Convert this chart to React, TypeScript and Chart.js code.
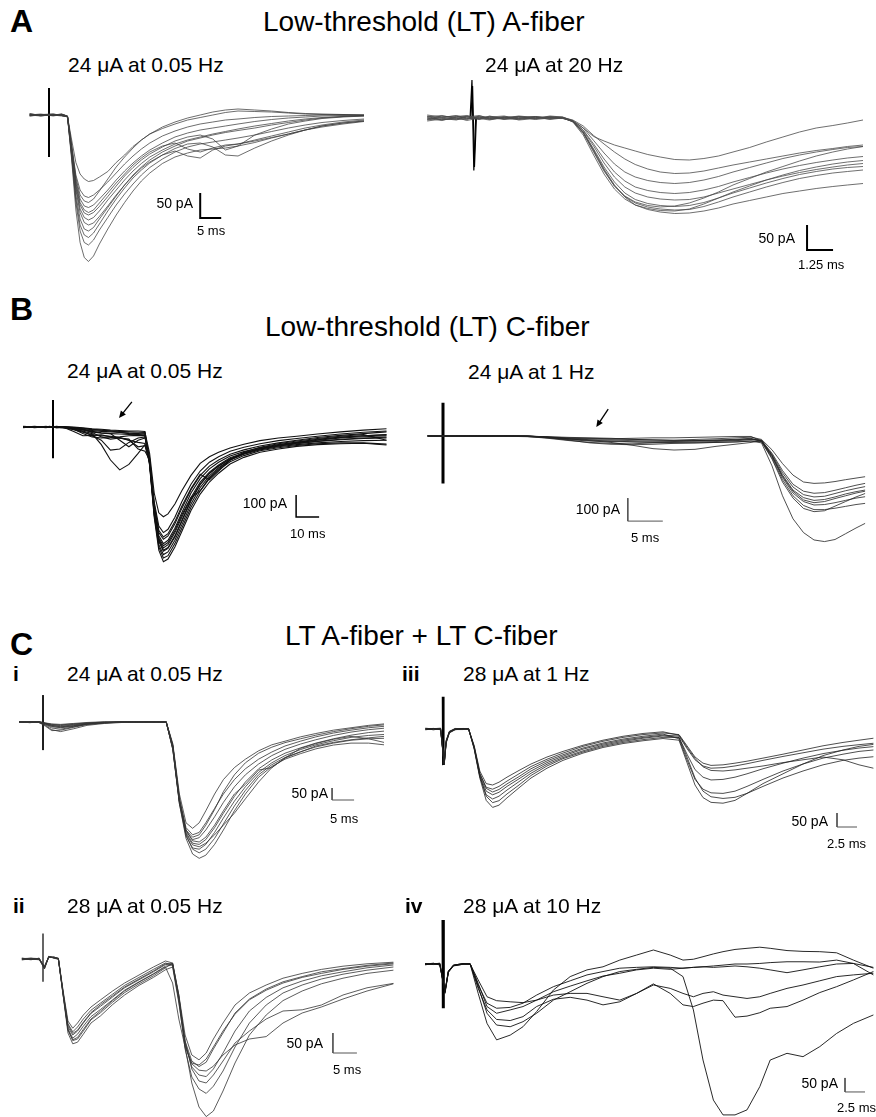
import React, { useEffect, useRef } from "react";
import { Chart, registerables } from "chart.js";

Chart.register(...registerables);

const FONT = '"Liberation Sans", Arial, Helvetica, sans-serif';

// ================= A (left): 24 uA at 0.05 Hz  (x: ms, y: pA) =================
const aLeftTimes = [-4.6, -2, 1, 3, 4.4, 5.4, 6.4, 7.4, 8.4, 9.4, 10.6, 12, 14, 16, 18, 20, 22, 24, 27, 30, 33, 36, 39, 42, 45, 49, 53, 57, 61, 65, 70, 75];
const aLeftTraces = [
  [3, -2, 1, -1, -3, -50, -95, -118, -128, -133, -131, -124, -113, -95, -80, -63, -50, -38, -27, -18, -10, -5, 0, 5, 8, 7, 6, 4, 2, 1, 0, 0],
  [0, 2, -2, 1, -2, -60, -120, -150, -162, -165, -160, -150, -134, -116, -98, -82, -68, -56, -42, -32, -24, -18, -14, -10, -8, -5, -3, -2, -1, 0, 1, -1],
  [-2, 0, 2, -1, -4, -65, -130, -168, -182, -185, -180, -168, -150, -130, -112, -96, -82, -70, -56, -44, -36, -30, -26, -22, -18, -13, -9, -6, -4, -2, -1, 0],
  [1, -1, 0, 2, -3, -70, -140, -180, -196, -200, -195, -183, -163, -142, -122, -105, -90, -78, -64, -52, -44, -40, -48, -70, -62, -40, -28, -18, -12, -7, -4, -2],
  [2, 0, -1, 1, -2, -72, -145, -188, -205, -210, -205, -192, -170, -150, -130, -112, -97, -84, -70, -58, -50, -44, -38, -33, -28, -22, -17, -12, -8, -5, -3, -1],
  [-1, 1, 0, -2, -3, -75, -150, -195, -215, -220, -216, -203, -182, -160, -140, -122, -106, -94, -80, -72, -82, -86, -70, -62, -58, -52, -45, -38, -30, -22, -16, -12],
  [0, -2, 1, 0, -4, -80, -160, -208, -228, -232, -225, -208, -185, -162, -140, -120, -104, -90, -74, -62, -52, -46, -40, -35, -31, -26, -20, -15, -10, -6, -3, -2],
  [1, 0, -1, 2, -2, -82, -168, -220, -240, -245, -236, -218, -192, -168, -146, -126, -110, -96, -80, -67, -58, -56, -64, -80, -82, -66, -52, -40, -30, -22, -16, -12],
  [-1, 1, 2, -1, -3, -85, -175, -232, -255, -260, -250, -230, -205, -180, -158, -138, -120, -105, -88, -74, -64, -58, -54, -50, -46, -40, -33, -26, -20, -15, -11, -8],
  [0, -1, 0, 1, -3, -90, -190, -255, -285, -293, -282, -258, -228, -200, -175, -152, -132, -116, -97, -84, -76, -70, -68, -66, -62, -55, -46, -38, -30, -24, -18, -13],
  [2, 0, -1, 1, -2, -62, -125, -160, -172, -175, -168, -152, -128, -104, -84, -66, -50, -38, -24, -14, -6, 0, 6, 10, 12, 10, 8, 5, 3, 2, 1, 0],
  [-2, 1, 0, -1, -3, -68, -135, -175, -190, -195, -190, -176, -156, -136, -118, -100, -86, -74, -62, -56, -68, -74, -66, -60, -58, -50, -42, -34, -26, -20, -14, -10],
];
const aLeftStim = [[0, 54], [0, -84]];

// ================= A (right): 24 uA at 20 Hz =================
const aRightTimes = [-2.2, -1.5, -0.8, -0.3, 0.3, 0.8, 1.5, 2.2, 3, 3.7, 4.3, 4.8, 5.3, 5.8, 6.3, 6.8, 7.3, 7.8, 8.4, 9, 9.7, 10.4, 11.1, 11.8, 12.5, 13.3, 14.1, 14.9, 15.7, 16.5, 17.3, 18, 18.75];
const aRightPre = [
  [-3, 2, 4, -2, 3, -2, 1, 3, -1, 2, 0],
  [4, -1, -4, 2, -2, 3, -1, -3, 2, 0, 1],
  [-6, -2, 3, 5, -1, -4, 2, 1, -2, 3, 2],
  [2, 5, -1, -3, 4, 1, -3, 2, 3, -1, 0],
  [-1, -5, 2, 3, -3, 2, 4, -2, 0, 2, -1],
  [6, 2, -3, -1, 2, -3, 0, 4, 1, -2, 1],
  [-4, 1, 5, 0, -2, 4, -2, -1, 3, 1, 0],
  [1, -3, -2, 4, 1, -1, 3, -4, -1, 4, 2],
  [-2, 4, 1, -5, 0, 2, -2, 3, -3, 0, 1],
  [3, -4, 0, 2, 5, -1, 1, -1, 2, -3, 0],
];
const aRightPost = [
  [-6, -20, -37, -46, -54, -60, -66, -73, -78, -83, -84, -81, -76, -68, -59, -48, -38, -28, -20, -15, -10, -4],
  [-4, -16, -35, -52, -68, -82, -93, -102, -108, -111, -110, -106, -100, -94, -88, -82, -76, -70, -65, -61, -57, -54],
  [-5, -20, -45, -70, -92, -108, -118, -125, -129, -131, -129, -124, -117, -108, -99, -90, -81, -74, -68, -63, -59, -57],
  [-6, -24, -52, -82, -108, -126, -138, -145, -149, -151, -149, -144, -137, -128, -119, -110, -102, -95, -89, -84, -80, -77],
  [-6, -25, -56, -90, -118, -138, -150, -158, -162, -164, -163, -158, -150, -142, -133, -124, -116, -109, -103, -98, -94, -91],
  [-7, -28, -62, -98, -128, -150, -163, -171, -175, -177, -175, -169, -160, -150, -140, -130, -121, -113, -107, -102, -99, -97],
  [-7, -30, -66, -104, -136, -157, -170, -178, -182, -184, -183, -177, -168, -158, -148, -138, -129, -121, -115, -110, -107, -104],
  [-6, -28, -64, -102, -134, -158, -174, -183, -188, -191, -190, -186, -180, -172, -165, -158, -151, -146, -141, -137, -134, -131],
  [-8, -34, -74, -112, -142, -162, -174, -181, -185, -186, -182, -172, -160, -148, -136, -124, -114, -105, -98, -92, -88, -85],
  [-7, -30, -68, -106, -136, -156, -168, -175, -178, -176, -170, -160, -148, -134, -121, -108, -97, -86, -76, -68, -62, -57],
];
const aRightStimA = [[-0.14, 0], [-0.05, 76], [0.04, -105], [0.13, 0]];
const aRightStimB = [[-0.1, 3], [-0.02, 64], [0.07, -98], [0.16, -2]];

// ================= B (left): 24 uA at 0.05 Hz =================
const bLeftTimes = [-13, -8, -3, -1.5, 1.5, 5, 9, 13, 17, 21, 25, 29, 33, 37, 40, 42, 44, 46, 48, 50, 53, 56, 60, 64, 68, 72, 77, 83, 90, 98, 106, 115, 125, 135, 145];
const bLeftPre = [
  [2, -3, 1, -2, 3, -1, -4, -8, -12, -15, -18, -20, -22, -24, -25],
  [-1, 2, -2, 1, -3, -2, -6, -14, -22, -28, -30, -32, -34, -36, -38],
  [3, 0, -2, 2, -1, -4, -10, -20, -40, -60, -105, -100, -70, -50, -45],
  [0, -2, 3, -1, 2, -3, -8, -18, -30, -80, -150, -195, -170, -120, -80],
  [-2, 1, 0, 3, -2, -1, -5, -10, -25, -45, -55, -50, -60, -70, -75],
  [1, -1, 2, -2, 0, 2, 0, -4, -8, -10, -14, -16, -18, -18, -20],
  [-3, 2, -1, 0, 2, -2, -12, -24, -35, -40, -42, -48, -60, -90, -85],
  [2, -2, 1, 2, -2, 1, -3, -6, -10, -14, -18, -24, -30, -34, -30],
  [0, 1, -3, 1, -1, -2, -10, -30, -45, -50, -48, -45, -40, -38, -40],
  [-2, 0, 2, -1, 1, -3, -20, -40, -38, -36, -45, -50, -55, -100, -110],
  [1, -2, 0, 2, -3, 0, -4, -12, -20, -26, -30, -60, -90, -60, -50],
  [-1, 3, -2, 0, 1, -2, -6, -12, -16, -20, -22, -25, -28, -30, -32],
];
const bLeftPost = [
  [-120, -300, -390, -408, -395, -350, -290, -220, -165, -135, -115, -95, -78, -62, -50, -42, -32, -22, -14, -8],
  [-140, -340, -450, -480, -465, -410, -340, -260, -200, -160, -135, -110, -92, -76, -62, -52, -42, -32, -24, -18],
  [-150, -360, -480, -510, -495, -440, -370, -285, -220, -178, -150, -124, -104, -86, -72, -60, -48, -38, -30, -22],
  [-155, -370, -495, -530, -515, -460, -390, -300, -235, -190, -160, -132, -112, -94, -80, -68, -56, -46, -40, -34],
  [-160, -380, -510, -550, -535, -480, -410, -320, -250, -205, -172, -140, -118, -98, -84, -74, -64, -56, -50, -46],
  [-160, -385, -520, -565, -552, -500, -430, -335, -262, -212, -178, -145, -120, -100, -86, -76, -66, -58, -52, -50],
  [-165, -395, -535, -580, -568, -515, -445, -350, -275, -222, -185, -150, -124, -104, -90, -80, -72, -66, -62, -60],
  [-170, -400, -545, -595, -585, -530, -460, -365, -290, -235, -195, -158, -130, -108, -94, -84, -76, -72, -72, -78],
  [-175, -410, -560, -612, -600, -545, -475, -380, -305, -250, -210, -168, -138, -115, -100, -88, -80, -76, -74, -82],
  [-150, -370, -505, -540, -525, -470, -400, -320, -290, -230, -190, -150, -122, -100, -86, -72, -60, -50, -44, -40],
  [-145, -350, -470, -500, -485, -430, -360, -280, -215, -240, -200, -150, -115, -92, -76, -64, -52, -42, -34, -60],
  [-160, -380, -515, -560, -548, -495, -425, -330, -258, -210, -176, -144, -118, -98, -82, -70, -58, -48, -40, -36],
];
const bLeftStim = [[0, 123], [0, -142]];

// ================= B (right): 24 uA at 1 Hz =================
const bRightTimes = [-2.2, -1, -0.3, 0.3, 1, 3, 6, 9, 12, 15, 18, 21, 24, 27, 30, 33, 36, 39, 42, 44, 45.5, 47, 48.5, 50, 51.5, 53, 54.5, 56, 57.5, 59, 60.3];
const bRightPre = [
  [2, -1, 1, -2, 1, 0, -1, 2, 0, -5, -10, -12, -14, -15, -16, -18, -15, -12, -8, -5],
  [-1, 2, -2, 1, -1, 2, 0, -1, -3, -8, -14, -18, -22, -25, -26, -24, -22, -20, -18, -15],
  [1, 0, -1, 2, 0, -1, 2, 0, -2, -10, -20, -28, -32, -34, -30, -28, -26, -24, -20, -16],
  [0, -2, 1, 0, -2, 1, -1, 1, -1, -6, -12, -20, -28, -40, -55, -61, -58, -45, -35, -28],
  [-2, 1, 0, -1, 2, -1, 1, -1, 0, -4, -8, -10, -12, -10, -8, -8, -6, -4, -2, -2],
  [1, -1, 2, -1, 0, 2, -1, 0, -2, -6, -16, -22, -24, -26, -28, -30, -30, -28, -26, -22],
  [-1, 0, -1, 1, 1, -2, 0, 2, -1, -3, -6, -8, -10, -14, -18, -20, -20, -18, -14, -10],
  [0, 1, -2, 0, -1, 1, 1, -2, 1, -8, -18, -30, -36, -38, -36, -32, -30, -28, -25, -22],
  [2, -2, 0, 1, -1, 0, -2, 1, 0, -5, -12, -16, -18, -20, -22, -22, -20, -18, -16, -12],
];
const bRightPost = [
  [-15, -60, -120, -170, -200, -206, -204, -198, -190, -183, -177],
  [-18, -75, -150, -210, -240, -249, -246, -236, -225, -214, -206],
  [-20, -80, -160, -222, -255, -265, -262, -250, -238, -228, -220],
  [-20, -85, -170, -235, -268, -280, -276, -265, -252, -242, -235],
  [-22, -90, -180, -248, -285, -300, -298, -290, -280, -270, -264],
  [-25, -95, -190, -260, -302, -320, -320, -314, -306, -298, -293],
  [-25, -100, -200, -270, -315, -329, -325, -305, -285, -265, -250],
  [-30, -130, -260, -360, -420, -452, -459, -450, -425, -400, -380],
  [-20, -85, -175, -240, -278, -290, -285, -272, -260, -248, -240],
];
const bRightStim = [[0, 145], [0, -206]];

// ================= C i: 24 uA at 0.05 Hz =================
const ciTimes = [-5.4, -3, -1, 0.6, 2, 4, 7, 10, 14, 18, 22, 26, 28, 29.5, 31, 32.5, 34, 35.5, 37, 39, 41, 43.5, 46, 49, 52, 55, 58.5, 62, 66, 70, 74, 77.5];
const ciPre = [
  [2, -3, 1, -8, -15, -18, -12, -6, -2, 1, -1, 2, 0],
  [-1, 2, -2, -12, -25, -30, -20, -10, -4, 0, 2, -1, 1],
  [1, 0, 2, -5, -10, -12, -8, -4, 0, -2, 1, 0, -2],
  [0, -2, 1, -15, -32, -40, -28, -14, -6, -2, 0, 1, -1],
  [-2, 1, -1, -6, -14, -20, -15, -8, -2, 2, -1, 0, 1],
  [1, -1, 0, -10, -20, -22, -16, -8, -3, 0, 1, -1, 0],
  [-1, 1, 2, -4, -8, -10, -6, -2, 1, -1, 0, 2, -1],
  [2, 0, -1, -18, -36, -34, -22, -10, -4, -1, 1, 0, 1],
  [0, 1, -2, -8, -18, -24, -18, -9, -3, 1, -2, 1, 0],
  [-1, -2, 1, -6, -12, -15, -10, -5, -1, 0, 1, -1, 2],
];
const ciPost = [
  [-90, -300, -420, -443, -420, -370, -300, -240, -190, -155, -120, -95, -80, -62, -48, -34, -24, -14, -8],
  [-100, -320, -440, -470, -460, -420, -360, -300, -240, -195, -155, -125, -100, -80, -62, -46, -34, -24, -18],
  [-110, -330, -455, -490, -482, -450, -395, -335, -270, -220, -175, -140, -114, -92, -74, -56, -42, -32, -26],
  [-100, -325, -460, -505, -510, -490, -440, -380, -310, -250, -195, -158, -130, -108, -88, -70, -55, -44, -38],
  [-115, -340, -475, -525, -530, -510, -460, -400, -330, -270, -210, -170, -140, -115, -95, -78, -64, -56, -52],
  [-105, -330, -470, -530, -545, -530, -485, -425, -350, -285, -220, -178, -148, -124, -104, -88, -76, -70, -68],
  [-110, -340, -485, -550, -568, -555, -510, -450, -370, -300, -230, -185, -155, -132, -112, -96, -88, -88, -95],
  [-95, -315, -450, -495, -500, -480, -430, -370, -300, -260, -200, -190, -150, -110, -90, -72, -60, -70, -85],
  [-100, -330, -465, -512, -520, -505, -470, -430, -380, -320, -250, -190, -150, -125, -100, -85, -74, -66, -60],
  [-115, -335, -450, -480, -470, -430, -365, -290, -220, -170, -130, -105, -86, -70, -55, -40, -28, -18, -12],
];
const ciStim = [[0, 112], [0, -117]];

// ================= C iii: 28 uA at 1 Hz =================
const ciiiTimes = [-2.2, -1.2, -0.3, 0.15, 0.4, 0.8, 1.5, 2.5, 3.2, 3.9, 4.6, 5.4, 6.2, 7, 8, 9.5, 11, 13, 15, 17.5, 20, 22.5, 25, 27.5, 29.5, 30.5, 31.5, 32.5, 33.5, 35, 36.5, 38, 40, 42.5, 45, 47.5, 50, 52, 53.8];
const ciiiStart = [
  [2, -3, 1, -125, -45, -12, -2, 1, 0],
  [-2, 1, 3, -120, -40, -8, 0, -1, 2],
  [1, 2, -2, -128, -50, -14, -3, 2, -1],
  [-1, -2, 2, -122, -42, -10, 1, 0, 1],
  [3, 0, -1, -126, -48, -13, -2, -2, 0],
  [0, 2, -3, -124, -44, -9, 2, 1, -2],
  [-3, 1, 0, -127, -46, -11, -1, 2, 1],
];
const ciiiFirst = [
  [-60, -150, -195, -200, -190, -172, -148, -125, -100, -80, -58, -40, -26, -16, -10],
  [-65, -160, -208, -215, -205, -186, -160, -134, -108, -86, -62, -44, -30, -20, -14],
  [-62, -158, -212, -225, -216, -196, -170, -142, -114, -92, -68, -50, -36, -26, -18],
  [-68, -165, -222, -235, -226, -205, -178, -150, -120, -97, -72, -54, -40, -30, -22],
  [-70, -170, -235, -250, -240, -218, -188, -158, -126, -102, -78, -58, -44, -33, -25],
  [-66, -168, -240, -263, -256, -232, -200, -166, -132, -106, -82, -62, -48, -38, -30],
  [-72, -175, -255, -280, -272, -246, -210, -175, -140, -112, -86, -66, -52, -42, -34],
];
const ciiiSecond = [
  [-22, -65, -105, -135, -148, -150, -146, -140, -132, -120, -110, -100, -110, -128, -140],
  [-20, -60, -100, -122, -130, -128, -122, -115, -104, -90, -75, -60, -48, -40, -33],
  [-35, -110, -180, -215, -228, -230, -222, -205, -180, -150, -125, -104, -90, -80, -75],
  [-25, -70, -110, -132, -140, -138, -132, -124, -112, -98, -85, -72, -62, -56, -51],
  [-30, -100, -175, -222, -242, -248, -244, -230, -205, -175, -150, -128, -112, -104, -99],
  [-30, -90, -145, -172, -182, -180, -172, -160, -142, -122, -104, -88, -76, -68, -63],
  [-40, -120, -200, -245, -262, -265, -255, -230, -195, -160, -125, -95, -75, -62, -55],
];
const ciiiStim = [[0, 115], [0.04, -129]];

// ================= C ii: 28 uA at 0.05 Hz =================
const ciiTimes = [-4.4, -2.5, -0.8, 0.3, 1.2, 2.3, 3.2, 4.2, 5.2, 6.2, 7.2, 8.4, 10, 12, 14.5, 17, 20, 23, 25.5, 27, 28.3, 29.6, 31, 32.5, 34, 35.5, 37.5, 40, 43, 46.5, 50, 54, 58, 62.5, 67.5, 73];
const ciiStart = [
  [1, -2, 2, -20, 5, 4, 2],
  [-2, 1, -1, -25, 6, 3, 0],
  [2, 0, -2, -18, 4, 5, 1],
  [0, 2, 1, -22, 7, 2, -1],
  [-1, -1, 2, -24, 5, 4, 1],
  [1, 2, -1, -19, 6, 3, 2],
  [-2, 0, 1, -21, 4, 5, 0],
  [2, -1, 0, -23, 6, 2, 1],
];
const ciiFirst = [
  [-80, -155, -173, -160, -140, -120, -102, -80, -60, -40, -20, -5],
  [-85, -162, -182, -170, -150, -128, -110, -88, -66, -46, -26, -10],
  [-88, -170, -190, -180, -160, -136, -118, -95, -72, -52, -32, -14],
  [-90, -175, -198, -188, -168, -144, -126, -102, -78, -57, -37, -18],
  [-86, -176, -204, -200, -180, -152, -134, -108, -84, -62, -42, -22],
  [-92, -185, -212, -208, -188, -160, -142, -114, -90, -66, -46, -27],
  [-84, -165, -186, -178, -158, -134, -114, -92, -70, -50, -30, -12],
  [-90, -178, -202, -196, -176, -150, -130, -104, -80, -58, -38, -20],
];
const ciiSecond = [
  [-10, -90, -190, -240, -252, -235, -200, -160, -115, -85, -65, -48, -36, -26, -18, -12, -8],
  [-15, -100, -205, -255, -269, -258, -225, -185, -135, -100, -75, -57, -44, -32, -24, -16, -10],
  [-12, -95, -210, -270, -290, -294, -275, -235, -180, -130, -96, -72, -55, -42, -32, -22, -15],
  [-15, -105, -225, -295, -325, -336, -318, -280, -220, -160, -115, -85, -65, -50, -38, -28, -20],
  [-10, -90, -220, -310, -370, -394, -380, -330, -260, -190, -140, -104, -80, -62, -48, -36, -28],
  [-20, -110, -215, -262, -278, -280, -268, -240, -215, -200, -194, -160, -135, -120, -100, -80, -62],
  [-12, -95, -205, -275, -305, -310, -290, -255, -210, -180, -150, -130, -127, -115, -90, -72, -61],
  [-60, -150, -220, -260, -265, -250, -220, -180, -138, -102, -78, -60, -46, -36, -26, -18, -12],
];
const ciiStim = [[0, 64], [0, -57]];

// ================= C iv: 28 uA at 10 Hz =================
const civTimes = [-2.25, -1.2, -0.4, 0.25, 0.67, 1.3, 2.5, 3.4, 4.4, 5.5, 6.7, 8.4, 10, 11.7, 13.8, 15.9, 18, 20, 22.1, 24.2, 26.3, 28.4, 30, 31.3, 32.5, 33.8, 35, 36.5, 38, 39.6, 40.9, 43, 45, 47.1, 49.2, 51.3, 53.8];
const civStart = [
  [-1, 3, -4, -100, -28, -6, 0, -1],
  [2, -2, 1, -95, -25, -4, 1, 0],
  [-3, 1, 2, -105, -30, -7, -1, 1],
  [1, -1, -2, -98, -26, -5, 2, -1],
  [0, 2, -1, -102, -29, -6, -1, 0],
  [-2, 0, 3, -97, -27, -4, 1, 1],
];
const civMain = [
  [-105, -212, -271, -254, -224, -170, -93, -45, -21, -10, 14, 32, 50, 32, 14, 17, 26, 36, 44, 52, 56, 60, 56, 48, 45, 44, 40, 14, -15],
  [-81, -176, -218, -224, -206, -176, -129, -99, -69, -45, -27, -19, -12, -15, -45, -164, -343, -486, -539, -539, -521, -438, -343, -319, -331, -295, -248, -212, -182],
  [-69, -152, -176, -164, -152, -129, -99, -79, -60, -43, -33, -21, -15, -19, -15, -12, -10, -12, -10, -7, -10, -15, -21, -31, -21, -10, 0, 2, -39],
  [-57, -117, -131, -135, -138, -129, -111, -105, -105, -117, -129, -105, -75, -87, -105, -117, -105, -99, -111, -117, -123, -117, -105, -87, -75, -60, -45, -39, -33],
  [-87, -164, -198, -202, -188, -152, -126, -119, -129, -146, -135, -105, -71, -105, -146, -152, -140, -129, -131, -190, -186, -174, -158, -152, -129, -102, -81, -57, -27],
  [-75, -140, -158, -155, -140, -111, -81, -60, -39, -27, -15, -12, -10, -12, -15, -12, -10, -7, -4, 0, 0, 2, 5, 8, 8, 7, 14, 2, -12],
];
const civStim = [[0, 157], [0.04, -158]];

// ---------- tables built from the arrays ----------
const join = (a: number[][], b: number[][]) => a.map((p, i) => [...p, ...b[i]]);
const join3 = (a: number[][], b: number[][], c: number[][]) => a.map((p, i) => [...p, ...b[i], ...c[i]]);

type Bar = { t: number; p: number; dt: number; dp: number; color: string; w: number };
type Panel = {
  key: string; left: number; top: number; width: number; height: number;
  sx: number; by: number; kx: number; ky: number;
  times: number[]; traces: number[][]; stims: number[][][];
  color: string; lw: number; stimW: number; bar: Bar; arrow?: number[][];
};

const panels: Panel[] = [
  { key: "aL", left: 20, top: 80, width: 360, height: 190, sx: 49, by: 115, kx: 4.2, ky: 0.5,
    times: aLeftTimes, traces: aLeftTraces, stims: [aLeftStim], color: "#3c3c3c", lw: 0.75, stimW: 2,
    bar: { t: 36, p: -206, dt: 5, dp: 50, color: "#000", w: 2 } },
  { key: "aR", left: 420, top: 72, width: 450, height: 200, sx: 473, by: 118, kx: 20.8, ky: 0.5,
    times: aRightTimes, traces: join(aRightPre, aRightPost), stims: [aRightStimA, aRightStimB], color: "#4a4a4a", lw: 0.8, stimW: 1.2,
    bar: { t: 16.06, p: -264, dt: 1.25, dp: 50, color: "#000", w: 2 } },
  { key: "bL", left: 15, top: 390, width: 380, height: 180, sx: 53, by: 427, kx: 2.3, ky: 0.22,
    times: bLeftTimes, traces: join(bLeftPre, bLeftPost), stims: [bLeftStim], color: "#111", lw: 1.1, stimW: 2,
    bar: { t: 105.7, p: -409, dt: 10, dp: 100, color: "#000", w: 1.5 }, arrow: [[34.3, 114], [28.7, 41]] },
  { key: "bR", left: 420, top: 395, width: 450, height: 160, sx: 443, by: 436, kx: 7, ky: 0.23,
    times: bRightTimes, traces: join(bRightPre, bRightPost), stims: [bRightStim], color: "#222", lw: 0.8, stimW: 3,
    bar: { t: 26.4, p: -370, dt: 5, dp: 100, color: "#555", w: 1 }, arrow: [[23.6, 117], [21.9, 39]] },
  { key: "ci", left: 10, top: 688, width: 380, height: 180, sx: 43, by: 722, kx: 4.4, ky: 0.24,
    times: ciTimes, traces: join(ciPre, ciPost), stims: [ciStim], color: "#333", lw: 0.8, stimW: 1,
    bar: { t: 65.7, p: -325, dt: 5, dp: 50, color: "#555", w: 1 } },
  { key: "ciii", left: 420, top: 690, width: 456, height: 170, sx: 443, by: 729, kx: 8, ky: 0.28,
    times: ciiiTimes, traces: join3(ciiiStart, ciiiFirst, ciiiSecond), stims: [ciiiStim], color: "#222", lw: 0.8, stimW: 2.5,
    bar: { t: 49.25, p: -350, dt: 2.5, dp: 50, color: "#555", w: 1 } },
  { key: "cii", left: 10, top: 925, width: 390, height: 192, sx: 43, by: 959, kx: 4.8, ky: 0.4,
    times: ciiTimes, traces: join3(ciiStart, ciiFirst, ciiSecond), stims: [ciiStim], color: "#333", lw: 0.8, stimW: 1.2,
    bar: { t: 60.4, p: -235, dt: 5, dp: 50, color: "#555", w: 1 } },
  { key: "civ", left: 420, top: 912, width: 456, height: 205, sx: 443, by: 964, kx: 8, ky: 0.28,
    times: civTimes, traces: join(civStart, civMain), stims: [civStim], color: "#111", lw: 0.9, stimW: 3,
    bar: { t: 50.25, p: -457, dt: 2.5, dp: 50, color: "#555", w: 1 } },
];

function TracePanel({ p }: { p: Panel }) {
  const ref = useRef<HTMLCanvasElement>(null);
  useEffect(() => {
    if (!ref.current) return;
    const xmin = (p.left - p.sx) / p.kx;
    const xmax = (p.left + p.width - p.sx) / p.kx;
    const ymax = (p.by - p.top) / p.ky;
    const ymin = (p.by - p.top - p.height) / p.ky;
    const datasets: any[] = [];
    p.traces.forEach((tr) =>
      datasets.push({
        data: p.times.map((t, i) => ({ x: t, y: tr[i] })),
        borderColor: p.color, borderWidth: p.lw, pointRadius: 0, tension: 0, fill: false,
      })
    );
    p.stims.forEach((s) =>
      datasets.push({
        data: s.map(([t, v]) => ({ x: t, y: v })),
        borderColor: "#000", borderWidth: p.stimW, pointRadius: 0, tension: 0, fill: false,
      })
    );
    const b = p.bar;
    datasets.push({
      data: [{ x: b.t, y: b.p + b.dp }, { x: b.t, y: b.p }, { x: b.t + b.dt, y: b.p }],
      borderColor: b.color, borderWidth: b.w, pointRadius: 0, tension: 0, fill: false,
      borderJoinStyle: "miter", borderCapStyle: "butt",
    });
    const arrowPlugin = {
      id: "arrow_" + p.key,
      afterDatasetsDraw(chart: any) {
        if (!p.arrow) return;
        const xs = chart.scales.x, ys = chart.scales.y, ctx = chart.ctx;
        const x1 = xs.getPixelForValue(p.arrow[0][0]), y1 = ys.getPixelForValue(p.arrow[0][1]);
        const x2 = xs.getPixelForValue(p.arrow[1][0]), y2 = ys.getPixelForValue(p.arrow[1][1]);
        const ang = Math.atan2(y2 - y1, x2 - x1);
        const hl = 7, hw = 3.2;
        ctx.save();
        ctx.strokeStyle = "#000"; ctx.fillStyle = "#000"; ctx.lineWidth = 1.3;
        ctx.beginPath(); ctx.moveTo(x1, y1);
        ctx.lineTo(x2 - Math.cos(ang) * hl * 0.8, y2 - Math.sin(ang) * hl * 0.8); ctx.stroke();
        ctx.beginPath(); ctx.moveTo(x2, y2);
        ctx.lineTo(x2 - Math.cos(ang) * hl - Math.sin(ang) * hw, y2 - Math.sin(ang) * hl + Math.cos(ang) * hw);
        ctx.lineTo(x2 - Math.cos(ang) * hl + Math.sin(ang) * hw, y2 - Math.sin(ang) * hl - Math.cos(ang) * hw);
        ctx.closePath(); ctx.fill();
        ctx.restore();
      },
    };
    const chart = new Chart(ref.current, {
      type: "line",
      data: { datasets },
      options: {
        animation: false, responsive: false, maintainAspectRatio: false, devicePixelRatio: 1,
        events: [],
        layout: { padding: 0 },
        plugins: { legend: { display: false }, tooltip: { enabled: false }, title: { display: false } },
        scales: {
          x: { type: "linear", display: false, min: xmin, max: xmax },
          y: { type: "linear", display: false, min: ymin, max: ymax },
        },
      },
      plugins: [arrowPlugin],
    } as any);
    return () => chart.destroy();
  }, [p]);
  return (
    <canvas
      ref={ref}
      width={p.width}
      height={p.height}
      style={{ position: "absolute", left: p.left, top: p.top, width: p.width, height: p.height }}
    />
  );
}

type Txt = { t: string; x: number; y: number; s: number; b?: boolean; a?: "end" | "middle" };
const texts: Txt[] = [
  { t: "A", x: 10, y: 32, s: 32, b: true },
  { t: "Low-threshold (LT) A-fiber", x: 263, y: 32, s: 28 },
  { t: "24 \u03bcA at 0.05 Hz", x: 68, y: 72, s: 21 },
  { t: "24 \u03bcA at 20 Hz", x: 485, y: 72, s: 21 },
  { t: "B", x: 10, y: 320, s: 32, b: true },
  { t: "Low-threshold (LT) C-fiber", x: 265, y: 337, s: 28 },
  { t: "24 \u03bcA at 0.05 Hz", x: 67, y: 378, s: 21 },
  { t: "24 \u03bcA at 1 Hz", x: 468, y: 379, s: 21 },
  { t: "C", x: 10, y: 655, s: 32, b: true },
  { t: "LT A-fiber + LT C-fiber", x: 285, y: 646, s: 28 },
  { t: "i", x: 13, y: 681, s: 21, b: true },
  { t: "24 \u03bcA at 0.05 Hz", x: 67, y: 681, s: 21 },
  { t: "iii", x: 402, y: 681, s: 21, b: true },
  { t: "28 \u03bcA at 1 Hz", x: 463, y: 681, s: 21 },
  { t: "ii", x: 13, y: 913, s: 21, b: true },
  { t: "28 \u03bcA at 0.05 Hz", x: 67, y: 913, s: 21 },
  { t: "iv", x: 405, y: 913, s: 21, b: true },
  { t: "28 \u03bcA at 10 Hz", x: 463, y: 913, s: 21 },
  // scale-bar labels
  { t: "50 pA", x: 193, y: 208, s: 14, a: "end" },
  { t: "5 ms", x: 197, y: 235, s: 13 },
  { t: "50 pA", x: 795, y: 243, s: 14, a: "end" },
  { t: "1.25 ms", x: 798, y: 269, s: 13 },
  { t: "100 pA", x: 287, y: 508, s: 14, a: "end" },
  { t: "10 ms", x: 290, y: 538, s: 13 },
  { t: "100 pA", x: 620, y: 514, s: 14, a: "end" },
  { t: "5 ms", x: 631, y: 542, s: 13 },
  { t: "50 pA", x: 328, y: 798, s: 14, a: "end" },
  { t: "5 ms", x: 330, y: 823, s: 13 },
  { t: "50 pA", x: 828, y: 826, s: 14, a: "end" },
  { t: "2.5 ms", x: 827, y: 848, s: 13 },
  { t: "50 pA", x: 323, y: 1048, s: 14, a: "end" },
  { t: "5 ms", x: 333, y: 1074, s: 13 },
  { t: "50 pA", x: 838, y: 1088, s: 14, a: "end" },
  { t: "2.5 ms", x: 837, y: 1112, s: 13 },
];

export default function App() {
  return (
    <div
      style={{
        position: "absolute", left: 0, top: 0, width: 876, height: 1117,
        background: "#fff", overflow: "hidden", fontFamily: FONT, color: "#000",
      }}
    >
      {panels.map((p) => (
        <TracePanel key={p.key} p={p} />
      ))}
      {texts.map((tx, i) => (
        <div
          key={i}
          style={{
            position: "absolute",
            left: tx.x,
            top: tx.y - 0.8465 * tx.s,
            fontSize: tx.s,
            lineHeight: `${tx.s}px`,
            fontWeight: tx.b ? 700 : 400,
            whiteSpace: "nowrap",
            transform: tx.a === "end" ? "translateX(-100%)" : tx.a === "middle" ? "translateX(-50%)" : undefined,
          }}
        >
          {tx.t}
        </div>
      ))}
    </div>
  );
}
